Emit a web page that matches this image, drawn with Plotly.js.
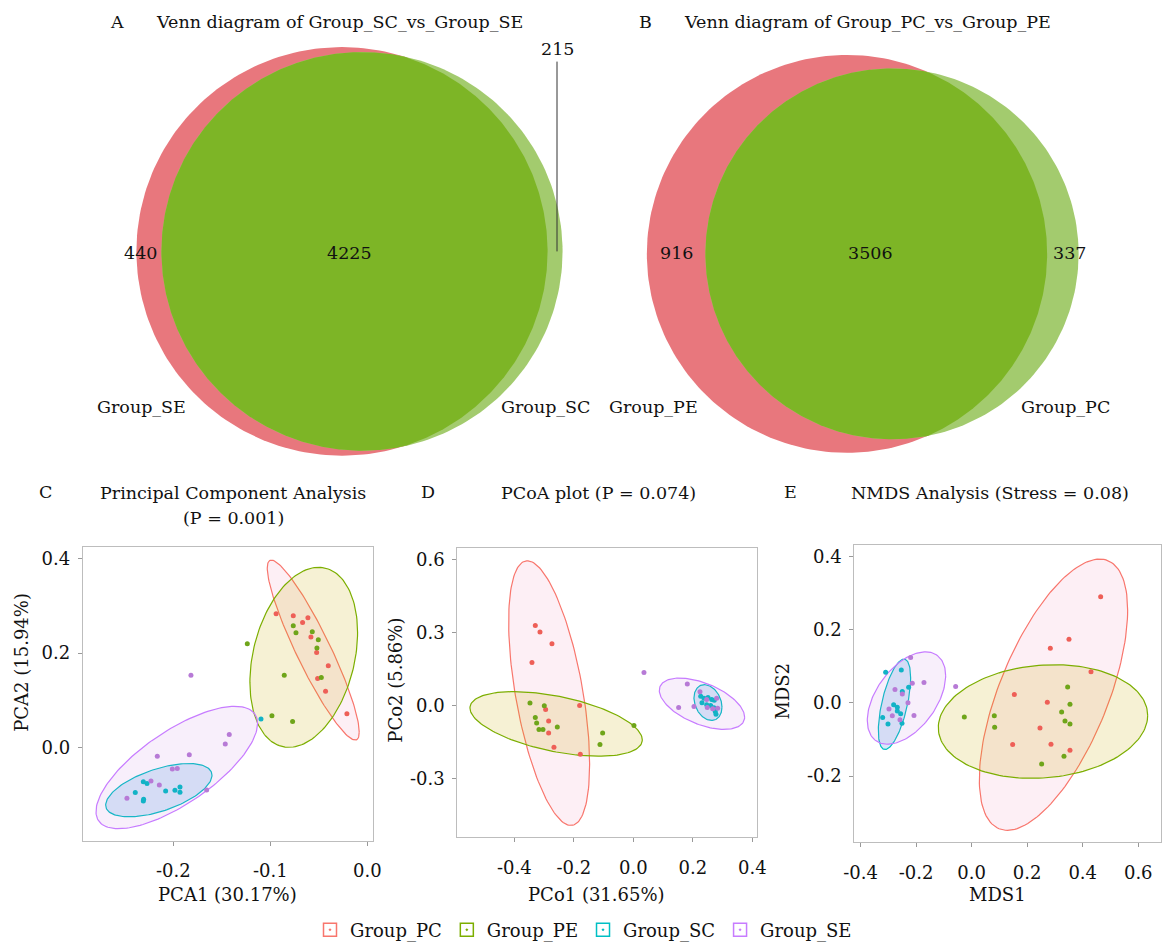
<!DOCTYPE html>
<html><head><meta charset="utf-8">
<script src="https://cdn.plot.ly/plotly-3.0.1.min.js"></script>
<style>html,body{margin:0;padding:0;background:#fff}#chart{width:1167px;height:949px}</style>
</head><body><div id="chart"></div>
<script>
// ---------------- DATA ----------------
const groups = ['Group_PC','Group_PE','Group_SC','Group_SE'];

// Venn A: Group_SE vs Group_SC
const vennASets = ['Group_SE','Group_SC'];
const vennAOnly = [440, 215];
const vennABoth = 4225;
// Venn B: Group_PE vs Group_PC
const vennBSets = ['Group_PE','Group_PC'];
const vennBOnly = [916, 337];
const vennBBoth = 3506;

// C: PCA
const pcaX_PC = [-0.094,-0.0763,-0.0667,-0.0612,-0.0581,-0.0522,-0.0402,-0.0512,-0.0430,-0.0210];
const pcaY_PC = [0.2835,0.279,0.265,0.275,0.234,0.201,0.173,0.146,0.119,0.071];
const pcaX_PE = [-0.1237,-0.0763,-0.0735,-0.0567,-0.0505,-0.0519,-0.0856,-0.0474,-0.0983,-0.0770];
const pcaY_PE = [0.2196,0.258,0.243,0.245,0.228,0.2105,0.153,0.148,0.067,0.055];
const pcaX_SC = [-0.1096,-0.2309,-0.2271,-0.2392,-0.2306,-0.2309,-0.2079,-0.1983,-0.1931,-0.1931];
const pcaY_SC = [0.060,-0.073,-0.0765,-0.096,-0.110,-0.114,-0.0926,-0.091,-0.084,-0.0954];
const pcaX_SE = [-0.1818,-0.1423,-0.1464,-0.1835,-0.2165,-0.201,-0.1959,-0.223,-0.2144,-0.1656,-0.2478];
const pcaY_SE = [0.153,0.027,0.007,-0.016,-0.019,-0.046,-0.045,-0.0716,-0.080,-0.0905,-0.108];
// confidence ellipses (order PC, PE, SC, SE): centre, half-width, half-height, y-offset at rightmost point
const pcaEllCx = [-0.0557,-0.0655,-0.2149,-0.1964];
const pcaEllCy = [0.2063,0.1909,-0.0909,-0.0428];
const pcaEllW  = [0.0474,0.0555,0.0548,0.0833];
const pcaEllH  = [0.1909,0.1909,0.0565,0.1298];
const pcaEllK  = [-0.174,0.0526,0.0316,0.0933];

// D: PCoA
const pcoaX_PC = [-0.3294,-0.3137,-0.2734,-0.3406,-0.2947,-0.2846,-0.2846,-0.1804,-0.2667,-0.1782];
const pcoaY_PC = [0.328,0.301,0.253,0.176,-0.0177,-0.0654,-0.1144,-0.0014,-0.173,-0.2015];
const pcoaX_PE = [-0.3473,-0.2992,-0.3294,-0.3249,-0.3171,-0.3036,-0.2555,-0.1031,-0.112,0.0022];
const pcoaY_PE = [0.0095,-0.0027,-0.0504,-0.0735,-0.0994,-0.0994,-0.0899,-0.1144,-0.162,-0.083];
const pcoaX_SC = [0.2265,0.2375,0.251,0.2634,0.2722,0.2308,0.2466,0.26,0.2711,0.2755,0.2779];
const pcoaY_SC = [0.0366,0.0285,0.0313,0.0231,0.0203,0.0097,0.0015,-0.0014,-0.0108,-0.0259,-0.0369];
const pcoaX_SE = [0.0359,0.1815,0.1524,0.2039,0.2241,0.2465,0.2486,0.2668,0.2801,0.2835];
const pcoaY_SE = [0.1348,0.0871,-0.0095,-0.0054,0.0558,0.023,-0.0095,-0.0148,0.0286,-0.0123];
const pcoaEllCx = [-0.2829,-0.2594,0.251,0.2308];
const pcoaEllCy = [0.0497,-0.0769,0.0109,0.0061];
const pcoaEllW  = [0.1361,0.2896,0.0471,0.1434];
const pcoaEllH  = [0.544,0.1328,0.0735,0.1055];
const pcoaEllK  = [-0.2928,-0.0654,-0.019,-0.0551];

// E: NMDS
const nmdsX_PC = [0.4646,0.3505,0.2833,0.4298,0.1537,0.2725,0.2461,0.1477,0.2857,0.3541];
const nmdsY_PC = [0.2896,0.1738,0.1493,0.0851,0.0226,0.0018,-0.0688,-0.114,-0.1131,-0.1294];
const nmdsX_PE = [-0.0264,0.0816,0.0828,0.3457,0.3541,0.3241,0.3361,0.3541,0.3325,0.2521];
const nmdsY_PE = [-0.0389,-0.0353,-0.067,0.0434,-0.0036,-0.0253,-0.0498,-0.0579,-0.1457,-0.1674];
const nmdsX_SC = [-0.3097,-0.2533,-0.2497,-0.2269,-0.2809,-0.2677,-0.2677,-0.2557,-0.3205,-0.3013,-0.2509];
const nmdsY_SC = [0.0833,0.0896,0.0308,0.0425,-0.0054,-0.0118,-0.0226,-0.0299,-0.0398,-0.0579,-0.0561];
const nmdsX_SE = [-0.2197,-0.1717,-0.0576,-0.2761,-0.2497,-0.2137,-0.2293,-0.2977,-0.2857,-0.2581,-0.2077];
const nmdsY_SE = [0.124,0.0552,0.0443,0.0362,0.0244,0.0534,0,-0.0172,-0.0353,-0.0462,-0.0344];
const nmdsEllCx = [0.2947,0.2569,-0.2779,-0.2347];
const nmdsEllCy = [0.0222,-0.0511,-0.0041,0.0131];
const nmdsEllW  = [0.2671,0.377,0.0582,0.1411];
const nmdsEllH  = [0.3706,0.1552,0.1235,0.1262];
const nmdsEllK  = [0.2308,0.0167,0.0724,0.0611];

// tick labels
const pcaXTicks = [-0.2,-0.1,0.0], pcaXText = ['-0.2','-0.1','0.0'];
const pcaYTicks = [0.0,0.2,0.4], pcaYText = ['0.0','0.2','0.4'];
const pcoaXTicks = [-0.4,-0.2,0.0,0.2,0.4], pcoaXText = ['-0.4','-0.2','0.0','0.2','0.4'];
const pcoaYTicks = [-0.3,0.0,0.3,0.6], pcoaYText = ['-0.3','0.0','0.3','0.6'];
const nmdsXTicks = [-0.4,-0.2,0.0,0.2,0.4,0.6], nmdsXText = ['-0.4','-0.2','0.0','0.2','0.4','0.6'];
const nmdsYTicks = [-0.2,0.0,0.2,0.4], nmdsYText = ['-0.2','0.0','0.2','0.4'];

// ---------------- STYLE / LAYOUT ----------------
const W = 1167, H = 949;
const FONT = 'DejaVu Serif';
const TXT = '#111';
const px = x => x / W, py = y => 1 - y / H;
const lineCols = ['#F8766D','#7CAE00','#00BFC4','#C77CFF'];
const dotCols  = ['#EE5F57','#6FA51A','#12B3C6','#B77AD6'];
const fillCols = ['rgba(240,120,170,0.12)','rgba(200,170,0,0.17)','rgba(60,150,225,0.20)','rgba(200,120,220,0.12)'];
const vennRed = '#E8777D', vennLight = '#A3CB6E', vennDark = '#7DB526';
const K = 3.01; // px per sqrt(count)

const traces = [];

function ellipsePts(cx, cy, w, h, k) {
  const xs = [], ys = [], m = Math.sqrt(Math.max(h*h - k*k, 0));
  for (let i = 0; i <= 160; i++) {
    const t = 2*Math.PI*i/160;
    xs.push(cx + w*Math.cos(t)); ys.push(cy + k*Math.cos(t) + m*Math.sin(t));
  }
  return [xs, ys];
}

function panel(ax, Xs, Ys, ecx, ecy, ew, eh, ek) {
  const xa = 'x' + ax, ya = 'y' + ax;
  for (let g = 0; g < 4; g++) {
    const [ex, ey] = ellipsePts(ecx[g], ecy[g], ew[g], eh[g], ek[g]);
    traces.push({x: ex, y: ey, xaxis: xa, yaxis: ya, mode: 'lines', fill: 'toself',
      fillcolor: fillCols[g], line: {color: lineCols[g], width: 1.2}, showlegend: false, hoverinfo: 'skip'});
  }
  for (let g = 0; g < 4; g++) {
    traces.push({x: Xs[g], y: Ys[g], xaxis: xa, yaxis: ya, mode: 'markers', name: groups[g],
      marker: {color: dotCols[g], size: 5}, showlegend: false});
  }
}
panel('', [pcaX_PC,pcaX_PE,pcaX_SC,pcaX_SE], [pcaY_PC,pcaY_PE,pcaY_SC,pcaY_SE], pcaEllCx, pcaEllCy, pcaEllW, pcaEllH, pcaEllK);
panel('2', [pcoaX_PC,pcoaX_PE,pcoaX_SC,pcoaX_SE], [pcoaY_PC,pcoaY_PE,pcoaY_SC,pcoaY_SE], pcoaEllCx, pcoaEllCy, pcoaEllW, pcoaEllH, pcoaEllK);
panel('3', [nmdsX_PC,nmdsX_PE,nmdsX_SC,nmdsX_SE], [nmdsY_PC,nmdsY_PE,nmdsY_SC,nmdsY_SE], nmdsEllCx, nmdsEllCy, nmdsEllW, nmdsEllH, nmdsEllK);

// legend entries
for (let g = 0; g < 4; g++) {
  traces.push({x: [null], y: [null], mode: 'markers', name: groups[g], showlegend: true,
    marker: {symbol: 'square-open-dot', size: 13, color: lineCols[g], line: {width: 1.5}}});
}

// Venn diagrams on a pixel-space axis (x4/y4)
function circle(cx, cy, r) {
  const xs = [], ys = [];
  for (let i = 0; i <= 240; i++) { const t = 2*Math.PI*i/240; xs.push(cx + r*Math.cos(t)); ys.push(cy + r*Math.sin(t)); }
  return [xs, ys];
}
function lens(c1, c2) {
  const pts = [];
  const inside = (p, c) => Math.hypot(p[0]-c[0], p[1]-c[1]) <= c[2] + 1e-9;
  [[c1,c2],[c2,c1]].forEach(([a,b]) => {
    for (let i = 0; i < 720; i++) { const t = 2*Math.PI*i/720; const p = [a[0]+a[2]*Math.cos(t), a[1]+a[2]*Math.sin(t)]; if (inside(p,b)) pts.push(p); }
  });
  const mx = pts.reduce((s,p)=>s+p[0],0)/pts.length, my = pts.reduce((s,p)=>s+p[1],0)/pts.length;
  pts.sort((p,q)=>Math.atan2(p[1]-my,p[0]-mx)-Math.atan2(q[1]-my,q[0]-mx));
  pts.push(pts[0]);
  return [pts.map(p=>p[0]), pts.map(p=>p[1])];
}
function venn(leftC, rightC, cy, only, both) {
  const rL = K*Math.sqrt(only[0]+both), rR = K*Math.sqrt(only[1]+both);
  const c1 = [leftC, cy, rL], c2 = [rightC, cy, rR];
  const [ax, ay] = circle(...c1), [bx, by] = circle(...c2), [lx, ly] = lens(c1, c2);
  [[ax,ay,vennRed],[bx,by,vennLight],[lx,ly,vennDark]].forEach(([x,y,c]) =>
    traces.push({x, y, xaxis: 'x4', yaxis: 'y4', mode: 'lines', fill: 'toself', fillcolor: c,
      line: {width: 0, color: c}, showlegend: false, hoverinfo: 'skip'}));
}
venn(342, 362, 253, vennAOnly, vennABoth);
venn(847, 892, 255.5, vennBOnly, vennBBoth);

const tf = {family: FONT, size: 18, color: TXT};
function axis(dom, range, tv, tt) {
  return {domain: dom, range, tickvals: tv, ticktext: tt, showline: true, mirror: true, linecolor: '#BDBDBD',
    linewidth: 1, ticks: 'outside', ticklen: 4, tickcolor: '#999', zeroline: false, showgrid: false,
    tickfont: tf, fixedrange: true};
}
const layout = {
  width: W, height: H, margin: {l: 0, r: 0, t: 0, b: 0},
  paper_bgcolor: '#fff', plot_bgcolor: 'rgba(0,0,0,0)',
  font: {family: FONT, color: TXT},
  xaxis:  Object.assign(axis([px(82.7), px(372.7)], [-0.2934, 0.0056], pcaXTicks, pcaXText), {anchor: 'y', ticklabelstandoff: 10}),
  yaxis:  Object.assign(axis([py(846), py(550)], [-0.198, 0.426], pcaYTicks, pcaYText), {anchor: 'x', ticklabelstandoff: 4}),
  xaxis2: Object.assign(axis([px(457.3), px(757.3)], [-0.5916, 0.4168], pcoaXTicks, pcoaXText), {anchor: 'y2', ticklabelstandoff: 10}),
  yaxis2: Object.assign(axis([py(842.7), py(551.7)], [-0.5433, 0.6454], pcoaYTicks, pcoaYText), {anchor: 'x2', ticklabelstandoff: 4}),
  xaxis3: Object.assign(axis([px(854.3), px(1161)], [-0.4226, 0.6819], nmdsXTicks, nmdsXText), {anchor: 'y3', ticklabelstandoff: 10}),
  yaxis3: Object.assign(axis([py(847.3), py(548.3)], [-0.3801, 0.4317], nmdsYTicks, nmdsYText), {anchor: 'x3', ticklabelstandoff: 4}),
  xaxis4: {domain: [0,1], range: [0, W], visible: false, fixedrange: true, anchor: 'y4'},
  yaxis4: {domain: [0,1], range: [H, 0], visible: false, fixedrange: true, anchor: 'x4'},
  showlegend: true,
  legend: {orientation: 'h', x: 0.5, xanchor: 'center', y: py(936), yanchor: 'middle',
    font: {family: FONT, size: 18, color: TXT}, bgcolor: 'rgba(0,0,0,0)'},
  shapes: [{type: 'line', xref: 'paper', yref: 'paper', x0: px(557), x1: px(557), y0: py(62), y1: py(253),
    line: {color: '#333', width: 1}}],
  annotations: []
};
function ann(text, x, y, size, extra) {
  layout.annotations.push(Object.assign({text, x: px(x), y: py(y), xref: 'paper', yref: 'paper', showarrow: false,
    xanchor: 'center', yanchor: 'middle', font: {family: FONT, size: size || 17.5, color: TXT}}, extra || {}));
}
// Venn texts
ann('A', 117, 22); ann('Venn diagram of ' + vennASets[1] + '_vs_' + vennASets[0], 340, 22);
ann('B', 645, 22); ann('Venn diagram of ' + vennBSets[1] + '_vs_' + vennBSets[0], 868, 22);
ann(String(vennAOnly[0]), 140, 255); ann(String(vennABoth), 349, 255); ann(String(vennAOnly[1]), 557, 49);
ann(String(vennBOnly[0]), 676, 255); ann(String(vennBBoth), 870, 255); ann(String(vennBOnly[1]), 1069, 255);
ann(vennASets[0], 141, 410); ann(vennASets[1], 545, 410);
ann(vennBSets[0], 653, 410); ann(vennBSets[1], 1065, 410);
// panel titles
ann('C', 45, 495); ann('Principal Component Analysis', 233, 496); ann('(P = 0.001)', 233, 521);
ann('D', 428, 495); ann('PCoA plot (P = 0.074)', 598, 496);
ann('E', 790, 495); ann('NMDS Analysis (Stress = 0.08)', 990, 496);
// axis titles
ann('PCA1 (30.17%)', 227, 900, 18); ann('PCA2 (15.94%)', 22, 667, 18, {textangle: -90});
ann('PCo1 (31.65%)', 597, 900, 18); ann('PCo2 (5.86%)', 396, 685, 18, {textangle: -90});
ann('MDS1', 997, 900, 18); ann('MDS2', 783, 696, 18, {textangle: -90});

Plotly.newPlot('chart', traces, layout, {displayModeBar: false, staticPlot: true});
</script></body></html>
